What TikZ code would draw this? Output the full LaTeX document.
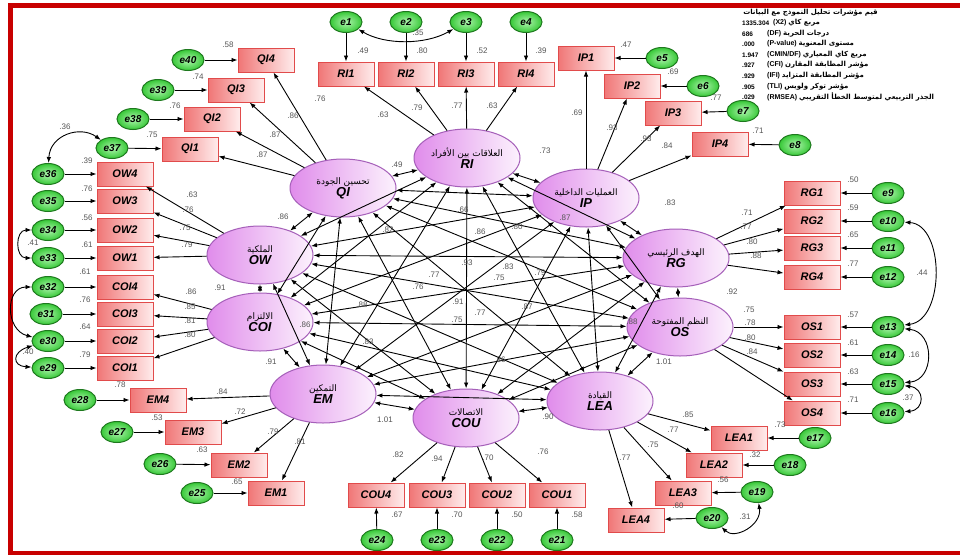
\documentclass[tikz,border=0pt]{standalone}
\usepackage{fontspec}
\setmainfont{Liberation Sans}
\newfontfamily\arabicfont[Script=Arabic]{DejaVu Sans}
\TeXXeTstate=1
\usetikzlibrary{shapes.geometric,arrows.meta}
\definecolor{frameRed}{RGB}{200,0,0}
\definecolor{latL}{RGB}{224,140,235}
\definecolor{latR}{RGB}{252,242,253}
\definecolor{latD}{RGB}{165,95,185}
\definecolor{indL}{RGB}{240,118,118}
\definecolor{indR}{RGB}{255,236,236}
\definecolor{indD}{RGB}{225,75,75}
\definecolor{errIn}{RGB}{175,245,175}
\definecolor{errOut}{RGB}{55,200,55}
\definecolor{errD}{RGB}{30,120,30}
\definecolor{lblC}{RGB}{85,85,85}
\newcommand{\arTxt}[1]{{\arabicfont\fontsize{9}{10.5}\selectfont\beginR #1\endR}}
\newcommand{\latAbbr}[1]{{\fontsize{13}{14}\selectfont\bfseries\itshape #1}}
\newcommand{\legAr}[1]{{\arabicfont\bfseries\beginR #1\endR}}
\newcommand{\plab}[3]{\node[lbl] (#1) at (#2) {#3};}
\begin{document}
\begin{tikzpicture}[x=1pt,y=-1pt,
  lat/.style={ellipse, draw=latD, line width=1pt, left color=latL, right color=latR, minimum width=106pt, minimum height=58pt, inner sep=0pt, align=center},
  ind/.style={rectangle, draw=indD, line width=1pt, left color=indL, right color=indR, minimum width=56pt, minimum height=24pt, inner sep=0pt, font=\fontsize{11}{11}\selectfont\bfseries\itshape},
  err/.style={ellipse, draw=errD, line width=1pt, inner color=errIn, outer color=errOut, minimum width=32pt, minimum height=21pt, inner sep=0pt, font=\fontsize{10}{10}\selectfont\bfseries\itshape},
  lbl/.style={font=\fontsize{8}{8}\selectfont, text=lblC, inner sep=0pt},
  arr/.style={-{Latex[length=6pt,width=4.5pt]}, line width=0.9pt},
  darr/.style={{Latex[length=6pt,width=4.5pt]}-{Latex[length=6pt,width=4.5pt]}, line width=0.9pt},
  leg/.style={font=\fontsize{7}{7}\selectfont, inner sep=0pt},
  legv/.style={font=\fontsize{6.5}{6.5}\selectfont\bfseries, inner sep=0pt}
]
\useasboundingbox (0,0) rectangle (960,555);
\fill[white] (0,0) rectangle (960,555);
\fill[frameRed] (8,3) rectangle (960,8);
\fill[frameRed] (8,3) rectangle (13,555);
\fill[frameRed] (8,551) rectangle (960,555);

% latent factors
\node[lat] (QI) at (343,188) {\arTxt{تحسين الجودة}\\\latAbbr{QI}};
\node[lat] (RI) at (467,158) {\arTxt{العلاقات بين الأفراد}\\\latAbbr{RI}};
\node[lat] (IP) at (586,198) {\arTxt{العمليات الداخلية}\\\latAbbr{IP}};
\node[lat] (RG) at (676,258) {\arTxt{الهدف الرئيسي}\\\latAbbr{RG}};
\node[lat] (OS) at (680,327) {\arTxt{النظم المفتوحة}\\\latAbbr{OS}};
\node[lat] (LEA) at (600,401) {\arTxt{القيادة}\\\latAbbr{LEA}};
\node[lat] (COU) at (466,418) {\arTxt{الاتصالات}\\\latAbbr{COU}};
\node[lat] (EM) at (323,394) {\arTxt{التمكين}\\\latAbbr{EM}};
\node[lat] (COI) at (260,322) {\arTxt{الالتزام}\\\latAbbr{COI}};
\node[lat] (OW) at (260,255) {\arTxt{الملكية}\\\latAbbr{OW}};

% indicators
\node[ind] (RI1) at (346,74) {RI1};
\node[ind] (RI2) at (406,74) {RI2};
\node[ind] (RI3) at (466,74) {RI3};
\node[ind] (RI4) at (526,74) {RI4};
\node[ind] (IP1) at (586,58) {IP1};
\node[ind] (IP2) at (632,86) {IP2};
\node[ind] (IP3) at (673,113) {IP3};
\node[ind] (IP4) at (720,144) {IP4};
\node[ind] (RG1) at (812,193) {RG1};
\node[ind] (RG2) at (812,221) {RG2};
\node[ind] (RG3) at (812,248) {RG3};
\node[ind] (RG4) at (812,277) {RG4};
\node[ind] (OS1) at (812,327) {OS1};
\node[ind] (OS2) at (812,355) {OS2};
\node[ind] (OS3) at (812,384) {OS3};
\node[ind] (OS4) at (812,413) {OS4};
\node[ind] (LEA1) at (739,438) {LEA1};
\node[ind] (LEA2) at (714,465) {LEA2};
\node[ind] (LEA3) at (683,493) {LEA3};
\node[ind] (LEA4) at (636,520) {LEA4};
\node[ind] (COU1) at (557,495) {COU1};
\node[ind] (COU2) at (497,495) {COU2};
\node[ind] (COU3) at (437,495) {COU3};
\node[ind] (COU4) at (376,495) {COU4};
\node[ind] (EM1) at (276,493) {EM1};
\node[ind] (EM2) at (239,465) {EM2};
\node[ind] (EM3) at (193,432) {EM3};
\node[ind] (EM4) at (158,400) {EM4};
\node[ind] (COI1) at (125,368) {COI1};
\node[ind] (COI2) at (125,341) {COI2};
\node[ind] (COI3) at (125,314) {COI3};
\node[ind] (COI4) at (125,287) {COI4};
\node[ind] (OW1) at (125,258) {OW1};
\node[ind] (OW2) at (125,230) {OW2};
\node[ind] (OW3) at (125,201) {OW3};
\node[ind] (OW4) at (125,174) {OW4};
\node[ind] (QI1) at (190,149) {QI1};
\node[ind] (QI2) at (212,119) {QI2};
\node[ind] (QI3) at (236,90) {QI3};
\node[ind] (QI4) at (266,60) {QI4};

% errors
\node[err] (e1) at (346,22) {e1};
\node[err] (e2) at (406,22) {e2};
\node[err] (e3) at (466,22) {e3};
\node[err] (e4) at (526,22) {e4};
\node[err] (e5) at (662,58) {e5};
\node[err] (e6) at (703,86) {e6};
\node[err] (e7) at (743,111) {e7};
\node[err] (e8) at (795,145) {e8};
\node[err] (e9) at (888,193) {e9};
\node[err] (e10) at (888,221) {e10};
\node[err] (e11) at (888,248) {e11};
\node[err] (e12) at (888,277) {e12};
\node[err] (e13) at (888,327) {e13};
\node[err] (e14) at (888,355) {e14};
\node[err] (e15) at (888,384) {e15};
\node[err] (e16) at (888,413) {e16};
\node[err] (e17) at (815,438) {e17};
\node[err] (e18) at (790,465) {e18};
\node[err] (e19) at (757,492) {e19};
\node[err] (e20) at (712,518) {e20};
\node[err] (e21) at (557,540) {e21};
\node[err] (e22) at (497,540) {e22};
\node[err] (e23) at (437,540) {e23};
\node[err] (e24) at (377,540) {e24};
\node[err] (e25) at (197,493) {e25};
\node[err] (e26) at (160,464) {e26};
\node[err] (e27) at (117,432) {e27};
\node[err] (e28) at (80,400) {e28};
\node[err] (e29) at (48,368) {e29};
\node[err] (e30) at (48,341) {e30};
\node[err] (e31) at (46,314) {e31};
\node[err] (e32) at (48,287) {e32};
\node[err] (e33) at (48,258) {e33};
\node[err] (e34) at (48,230) {e34};
\node[err] (e35) at (48,201) {e35};
\node[err] (e36) at (48,174) {e36};
\node[err] (e37) at (112,148) {e37};
\node[err] (e38) at (133,119) {e38};
\node[err] (e39) at (158,90) {e39};
\node[err] (e40) at (188,60) {e40};

% error -> indicator
\foreach \e/\t in {e1/RI1,e2/RI2,e3/RI3,e4/RI4,e5/IP1,e6/IP2,e7/IP3,e8/IP4,
  e9/RG1,e10/RG2,e11/RG3,e12/RG4,e13/OS1,e14/OS2,e15/OS3,e16/OS4,
  e17/LEA1,e18/LEA2,e19/LEA3,e20/LEA4,e21/COU1,e22/COU2,e23/COU3,e24/COU4,
  e25/EM1,e26/EM2,e27/EM3,e28/EM4,e29/COI1,e30/COI2,e31/COI3,e32/COI4,
  e33/OW1,e34/OW2,e35/OW3,e36/OW4,e37/QI1,e38/QI2,e39/QI3,e40/QI4}
  \draw[arr] (\e) -- (\t);

% latent -> indicator
\foreach \l in {QI,RI,IP,RG,OS,LEA,COU,EM,COI,OW}
  \foreach \i in {1,2,3,4}
    \draw[arr] (\l) -- (\l\i);

% latent correlations
\foreach \a/\b in {QI/RI,RI/IP,IP/RG,RG/OS,OS/LEA,LEA/COU,COU/EM,EM/COI,COI/OW,OW/QI,
  QI/IP,QI/RG,QI/OS,QI/LEA,QI/COU,QI/EM,QI/COI,
  RI/RG,RI/OS,RI/LEA,RI/COU,RI/EM,RI/COI,RI/OW,
  IP/OS,IP/LEA,IP/COU,IP/EM,IP/COI,IP/OW,
  RG/LEA,RG/COU,RG/EM,RG/COI,RG/OW,
  OS/COU,OS/EM,OS/COI,OS/OW,
  LEA/EM,LEA/COI,LEA/OW,
  COU/COI,COU/OW,EM/OW}
  \draw[darr] (\a) -- (\b);

% error covariances
\draw[darr] (e1) .. controls (385,45) and (425,45) .. (e3);
\draw[darr] (e10) .. controls (945,225) and (945,320) .. (e13);
\draw[darr] (e13) .. controls (935,332) and (935,380) .. (e15);
\draw[darr] (e15) .. controls (925,388) and (925,410) .. (e16);
\draw[darr] (e20) .. controls (735,540) and (762,525) .. (e19);
\draw[darr] (e37) .. controls (80,125) and (50,135) .. (e36);
\draw[darr] (e34) .. controls (15,230) and (15,258) .. (e33);
\draw[darr] (e32) .. controls (5,287) and (5,330) .. (e30);
\draw[darr] (e30) .. controls (12,352) and (12,366) .. (e29);

% labels: RI
\plab{p1}{363,51}{.49}\plab{p2}{422,51}{.80}\plab{p3}{482,51}{.52}\plab{p4}{541,51}{.39}
\plab{p5}{418,33}{.35}
\plab{p6}{383,115}{.63}\plab{p7}{417,108}{.79}\plab{p8}{457,106}{.77}\plab{p9}{492,106}{.63}
\plab{p10}{397,165}{.49}\plab{p11}{545,151}{.73}
% IP
\plab{p12}{626,45}{.47}\plab{p13}{673,72}{.69}\plab{p14}{716,98}{.77}\plab{p15}{758,131}{.71}
\plab{p16}{577,113}{.69}\plab{p17}{612,128}{.93}\plab{p18}{646,139}{.93}\plab{p19}{667,146}{.84}
% RG
\plab{p20}{853,180}{.50}\plab{p21}{853,208}{.59}\plab{p22}{853,235}{.65}\plab{p23}{853,264}{.77}
\plab{p24}{747,213}{.71}\plab{p25}{746,227}{.77}\plab{p26}{752,242}{.80}\plab{p27}{756,256}{.88}
\plab{p28}{670,203}{.83}\plab{p29}{732,292}{.92}\plab{p30}{922,273}{.44}
% OS
\plab{p31}{853,315}{.57}\plab{p32}{853,343}{.61}\plab{p33}{853,372}{.63}\plab{p34}{853,400}{.71}
\plab{p35}{749,310}{.75}\plab{p36}{750,323}{.78}\plab{p37}{750,338}{.80}\plab{p38}{752,352}{.84}
\plab{p39}{914,355}{.16}\plab{p40}{908,398}{.37}\plab{p41}{664,362}{1.01}
% LEA
\plab{p42}{780,425}{.73}\plab{p43}{755,455}{.32}\plab{p44}{723,480}{.56}\plab{p45}{678,506}{.60}
\plab{p46}{688,415}{.85}\plab{p47}{673,430}{.77}\plab{p48}{653,445}{.75}\plab{p49}{625,458}{.77}
\plab{p50}{745,517}{.31}\plab{p51}{548,417}{.90}
% COU
\plab{p52}{398,455}{.82}\plab{p53}{437,459}{.94}\plab{p54}{488,458}{.70}\plab{p55}{543,452}{.76}
\plab{p56}{397,515}{.67}\plab{p57}{457,515}{.70}\plab{p58}{517,515}{.50}\plab{p59}{577,515}{.58}
\plab{p60}{385,420}{1.01}
% EM
\plab{p61}{222,392}{.84}\plab{p62}{240,412}{.72}\plab{p63}{273,432}{.79}\plab{p64}{300,442}{.81}
\plab{p65}{120,385}{.78}\plab{p66}{157,418}{.53}\plab{p67}{202,450}{.63}\plab{p68}{237,482}{.65}
\plab{p69}{271,362}{.91}
% COI
\plab{p70}{191,292}{.86}\plab{p71}{190,307}{.85}\plab{p72}{190,321}{.81}\plab{p73}{190,335}{.80}
\plab{p74}{85,272}{.61}\plab{p75}{85,300}{.76}\plab{p76}{85,327}{.64}\plab{p77}{85,355}{.79}
\plab{p78}{28,352}{.40}\plab{p79}{220,288}{.91}
% OW
\plab{p80}{192,195}{.63}\plab{p81}{188,210}{.76}\plab{p82}{185,228}{.75}\plab{p83}{187,245}{.79}
\plab{p84}{87,161}{.39}\plab{p85}{87,189}{.76}\plab{p86}{87,218}{.56}\plab{p87}{87,245}{.61}
\plab{p88}{33,243}{.41}\plab{p89}{283,217}{.86}
% QI
\plab{p90}{320,99}{.76}\plab{p91}{293,116}{.86}\plab{p92}{275,135}{.87}\plab{p93}{262,155}{.87}
\plab{p94}{228,45}{.58}\plab{p95}{198,77}{.74}\plab{p96}{175,106}{.76}\plab{p97}{152,135}{.75}
\plab{p98}{65,127}{.36}
% interior correlations
\plab{q1}{463,210}{.66}\plab{q2}{480,232}{.86}\plab{q3}{517,227}{.80}\plab{q4}{388,230}{.82}
\plab{q5}{467,263}{.93}\plab{q6}{508,267}{.83}\plab{q7}{434,275}{.77}\plab{q8}{499,278}{.75}
\plab{q9}{540,273}{.79}\plab{q10}{418,287}{.76}\plab{q11}{458,302}{.91}\plab{q12}{480,313}{.77}
\plab{q13}{362,305}{.88}\plab{q14}{457,320}{.75}\plab{q15}{527,307}{.87}\plab{q16}{368,342}{.83}
\plab{q17}{500,360}{.86}\plab{q18}{565,218}{.87}\plab{q19}{632,322}{.88}\plab{q20}{305,325}{.86}

% legend
\node[leg, anchor=east] (lgT) at (878,13) {\legAr{قيم مؤشرات تحليل النموذج مع البيانات}};
\node[legv, anchor=west] (lv1) at (742,23) {1335.304};
\node[legv, anchor=west] (lv2) at (742,34) {686};
\node[legv, anchor=west] (lv3) at (742,44) {.000};
\node[legv, anchor=west] (lv4) at (742,55) {1.947};
\node[legv, anchor=west] (lv5) at (742,65) {.927};
\node[legv, anchor=west] (lv6) at (742,76) {.929};
\node[legv, anchor=west] (lv7) at (742,87) {.905};
\node[legv, anchor=west] (lv8) at (742,97) {.029};
\node[leg, anchor=west] (lt1) at (773,23) {\textbf{(X2)}\ \legAr{مربع كاي}};
\node[leg, anchor=west] (lt2) at (767,34) {\textbf{(DF)}\ \legAr{درجات الحرية}};
\node[leg, anchor=west] (lt3) at (767,44) {\textbf{(P-value)}\ \legAr{مستوى المعنوية}};
\node[leg, anchor=west] (lt4) at (767,55) {\textbf{(CMIN/DF)}\ \legAr{مربع كاي المعياري}};
\node[leg, anchor=west] (lt5) at (767,65) {\textbf{(CFI)}\ \legAr{مؤشر المطابقة المقارن}};
\node[leg, anchor=west] (lt6) at (767,76) {\textbf{(IFI)}\ \legAr{مؤشر المطابقة المتزايد}};
\node[leg, anchor=west] (lt7) at (767,87) {\textbf{(TLI)}\ \legAr{مؤشر توكر ولويس}};
\node[leg, anchor=west] (lt8) at (767,97) {\textbf{(RMSEA)}\ \legAr{الجذر التربيعي لمتوسط الخطأ التقريبي}};
\end{tikzpicture}
\end{document}
